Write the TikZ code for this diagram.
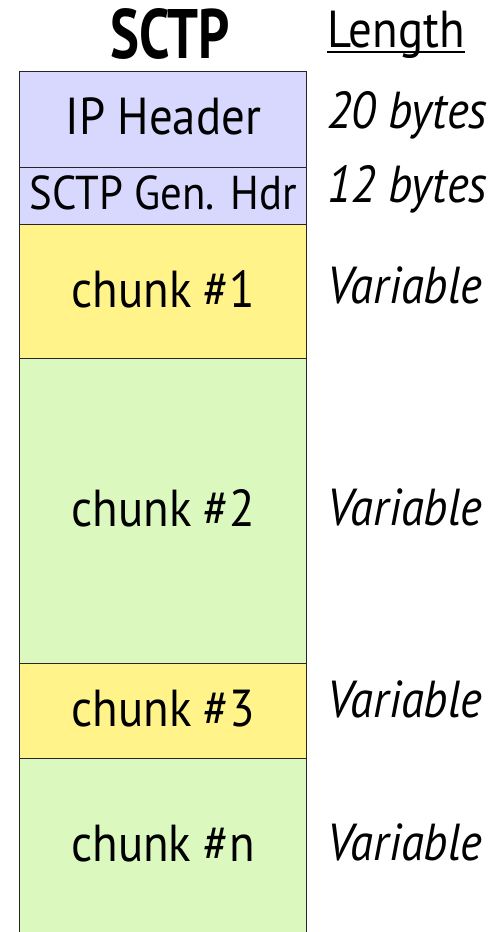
\documentclass[tikz,border=0pt]{standalone}
\usepackage{fontspec}
\setmainfont{PT Sans}[FakeStretch=0.9]
\newfontfamily\titlefont{PT Sans}[FakeStretch=0.78]
\definecolor{hdrblue}{RGB}{216,216,255}
\definecolor{chyellow}{RGB}{255,243,138}
\definecolor{chgreen}{RGB}{219,249,190}
\begin{document}
\begin{tikzpicture}[x=1pt,y=-1pt,
  field/.style={draw=black!85,line width=1.4pt,minimum width=287pt,inner sep=0pt,anchor=north west,
    text depth=6pt,font=\fontsize{52}{56}\selectfont},
  lenlabel/.style={anchor=base west,inner sep=0pt,font=\fontsize{52}{56}\selectfont\itshape}]
\clip (0,0) rectangle (490,932);
\fill[white] (0,0) rectangle (490,932);
\node[anchor=base,inner sep=0pt,font=\titlefont\bfseries\fontsize{70}{74}\selectfont] (title) at (170,58) {SCTP};
\node[anchor=base west,inner sep=0pt,font=\fontsize{52}{56}\selectfont] (len) at (327,47) {Length};
\draw[line width=1.6pt] ([yshift=-5pt]len.base west) -- ([yshift=-5pt]len.base east);
\node[field,fill=hdrblue,minimum height=96pt] (ip) at (19,70.7) {IP Header};
\node[field,fill=hdrblue,minimum height=57.3pt,font=\fontsize{47.5}{50}\selectfont] (gen) at (19,166.7) {SCTP Gen. Hdr};
\node[field,fill=chyellow,minimum height=134pt] (c1) at (19,224) {chunk \#1};
\node[field,fill=chgreen,minimum height=304.5pt] (c2) at (19,358) {chunk \#2};
\node[field,fill=chyellow,minimum height=95.5pt] (c3) at (19,662.5) {chunk \#3};
\node[field,fill=chgreen,minimum height=176pt] (cn) at (19,758) {chunk \#n};
\node[lenlabel] (l1) at (327,128) {20 bytes};
\node[lenlabel] (l2) at (327,202) {12 bytes};
\node[lenlabel] (l3) at (327,303) {Variable};
\node[lenlabel] (l4) at (327,525) {Variable};
\node[lenlabel] (l5) at (327,717) {Variable};
\node[lenlabel] (l6) at (327,860) {Variable};
\end{tikzpicture}
\end{document}
